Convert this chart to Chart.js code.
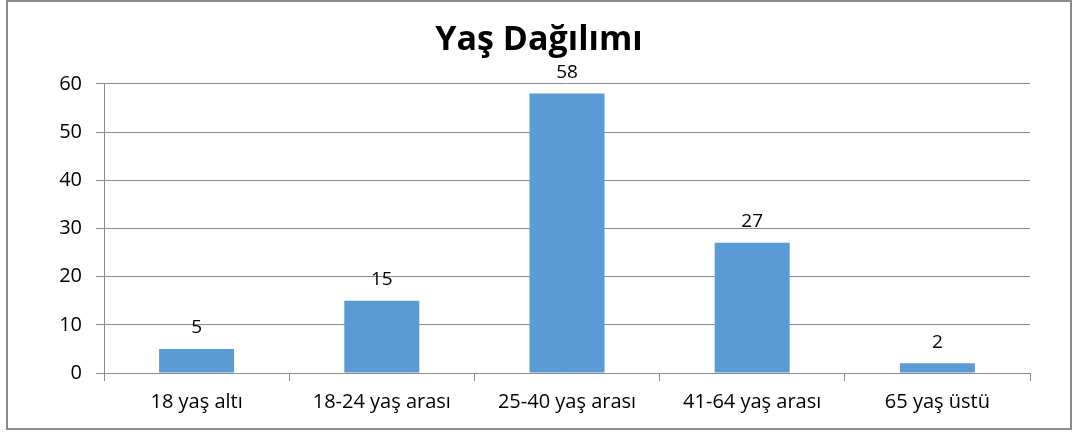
<!DOCTYPE html>
<html>
<head>
<meta charset="utf-8">
<script src="https://cdn.jsdelivr.net/npm/chart.js@4/dist/chart.umd.min.js"></script>
<style>
    body { margin: 0; background: #fff; }
    #wrap { position: relative; width: 1078px; height: 436px; }
    #frame { position: absolute; left: 6px; top: 0px; width: 1066px; height: 430px; border: 2px solid #8c8c8c; box-sizing: border-box; pointer-events: none; }
    canvas { position: absolute; left: 0; top: 0; }
</style>
</head>
<body>
<div id="wrap">
    <canvas id="grafico" width="1078" height="436"></canvas>
    <div id="frame"></div>
</div>
<script>
const categorias = ['18 yaş altı', '18-24 yaş arası', '25-40 yaş arası', '41-64 yaş arası', '65 yaş üstü'];
const valores = [5, 15, 58, 27, 2];
const tituloGrafico = 'Yaş Dağılımı';

const corBarra = '#5B9BD5';
const corGrade = '#8a8a8a';
const fonte = '"Open Sans", Lato, sans-serif';

// rótulos de valor acima das barras
const rotulosValor = {
    id: 'rotulosValor',
    afterDatasetsDraw(chart) {
        const ctx = chart.ctx;
        ctx.save();
        ctx.font = '19px ' + fonte;
        ctx.fillStyle = '#000';
        ctx.textAlign = 'center';
        ctx.textBaseline = 'middle';
        chart.getDatasetMeta(0).data.forEach((bar, i) => {
            ctx.fillText(String(valores[i]), bar.x, bar.y - 21);
        });
        ctx.restore();
    }
};

new Chart(document.getElementById('grafico'), {
    type: 'bar',
    data: {
        labels: categorias,
        datasets: [{
            data: valores,
            backgroundColor: corBarra,
            borderWidth: 0,
            barPercentage: 0.405,
            categoryPercentage: 1
        }]
    },
    options: {
        responsive: false,
        animation: false,
        // padding esquerdo = direito para centralizar o título no quadro
        layout: { padding: { left: 48, right: 48, top: 0, bottom: 13 } },
        plugins: {
            legend: { display: false },
            tooltip: { enabled: false },
            title: {
                display: true,
                text: tituloGrafico,
                color: '#000',
                font: { family: fonte, size: 34, weight: 'bold' },
                padding: { top: 20, bottom: 23 }
            }
        },
        scales: {
            x: {
                grid: { drawOnChartArea: false, drawTicks: true, tickLength: 8, color: corGrade, offset: true },
                border: { display: true, color: corGrade, width: 1 },
                ticks: { color: '#000', font: { family: fonte, size: 20 }, padding: 9 }
            },
            y: {
                min: 0,
                max: 60,
                ticks: { stepSize: 10, color: '#000', font: { family: fonte, size: 20 }, padding: 14 },
                grid: { color: corGrade, tickLength: 8 },
                border: { display: true, color: corGrade, width: 1 },
                afterFit(scale) { scale.width = 56; }
            }
        }
    },
    plugins: [rotulosValor]
});
</script>
</body>
</html>
